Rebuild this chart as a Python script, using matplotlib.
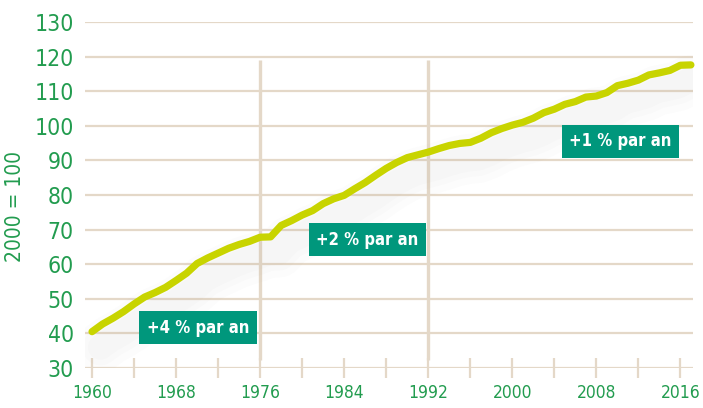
import matplotlib
matplotlib.use("Agg")
import matplotlib.pyplot as plt

years = list(range(1960, 2018))
index_values = [
    40.5, 42.7, 44.4, 46.3, 48.5, 50.5, 51.8, 53.3, 55.3, 57.4,
    60.2, 61.8, 63.2, 64.6, 65.7, 66.6, 67.8, 67.9, 71.2, 72.6,
    74.2, 75.5, 77.5, 78.9, 79.9, 81.8, 83.6, 85.7, 87.7, 89.4,
    90.8, 91.6, 92.4, 93.4, 94.3, 94.9, 95.2, 96.4, 98.0, 99.2,
    100.2, 101.0, 102.2, 103.8, 104.8, 106.2, 107.0, 108.3, 108.6, 109.6,
    111.6, 112.3, 113.2, 114.7, 115.3, 116.0, 117.5, 117.6,
]
period_breaks = [1976, 1992]
growth_labels = ["+4 % par an", "+2 % par an", "+1 % par an"]
label_years = [1970.1, 1986.2, 2010.3]
label_levels = [41.6, 67.0, 95.6]

GREEN = "#229c4f"
TEAL = "#00977c"
LINE = "#c8d400"
BEIGE = "#e4d8c8"

plt.rcParams["font.family"] = ["DejaVu Sans"]
plt.rcParams["font.stretch"] = "condensed"

fig = plt.figure(figsize=(7.03, 4.08), dpi=100)
ax = fig.add_axes([85 / 703, (408 - 368) / 408, 608 / 703, 346 / 408])

ax.set_xlim(1959.33, 2017.2)
ax.set_ylim(30, 130)

# horizontal grid
for v in range(30, 131, 10):
    ax.axhline(v, color=BEIGE, lw=1.6, zorder=1)

# period separators
for yr in period_breaks:
    ax.vlines(yr, 32.3, 119, color=BEIGE, lw=2.4, zorder=1)

# soft shadow under the line
for w in [36, 26, 18]:
    ax.plot([y + 0.8 for y in years], [v - 4.5 for v in index_values],
            color="#909090", alpha=0.025, lw=w, solid_capstyle="round",
            zorder=2)

ax.plot(years, index_values, color=LINE, lw=5.2, solid_capstyle="round",
        solid_joinstyle="round", zorder=4, clip_on=False)

for txt, x, y in zip(growth_labels, label_years, label_levels):
    ax.text(x, y, txt, color="white", fontsize=12, fontweight="bold",
            ha="center", va="center", zorder=5,
            bbox=dict(boxstyle="square,pad=0.45", fc=TEAL, ec="none"))

for s in ax.spines.values():
    s.set_visible(False)

ax.set_yticks(range(30, 131, 10))
ax.set_yticklabels([str(v) for v in range(30, 131, 10)], fontsize=16.5,
                   color=GREEN)
ax.tick_params(axis="y", length=0, pad=8)

xt = list(range(1960, 2017, 4))
ax.set_xticks(xt)
ax.set_xticklabels([str(t) if (t - 1960) % 8 == 0 else "" for t in xt],
                   fontsize=12.5, color=GREEN)
ax.tick_params(axis="x", direction="inout", length=15, width=1.6,
               color=BEIGE, pad=4)

ax.set_ylabel("2000 = 100", fontsize=15, color=GREEN)
ax.yaxis.set_label_coords(-0.099, 0.468)

fig.savefig("out.png", dpi=100)
